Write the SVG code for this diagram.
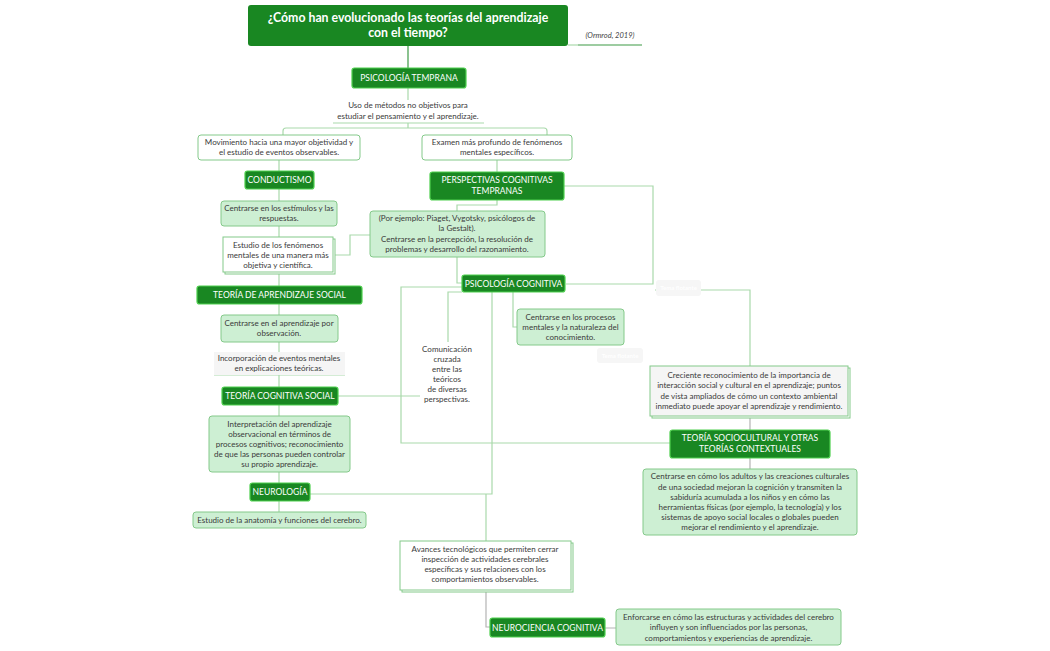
<svg xmlns="http://www.w3.org/2000/svg" width="1050" height="651" viewBox="0 0 1050 651">
<style>
text{font-family:Lato,"Liberation Sans",sans-serif;}
.t{font-size:8px;fill:#3a3a3a;text-anchor:middle;}
.h{font-size:8.5px;fill:#fff;text-anchor:middle;}
.dk{fill:#198722;stroke:#4fd04f;stroke-width:1.2;}
.lg{fill:#cdefd3;stroke:#84c98a;stroke-width:1;}
.wh{fill:#fff;stroke:#84c98a;stroke-width:1;}
.gy{fill:#f5f5f5;stroke:#84c98a;stroke-width:1;}
.sh{fill:#fff;stroke:#84c98a;stroke-width:1;}
.c{fill:none;stroke:#a9d9ab;stroke-width:1.2;}
.cg{fill:none;stroke:#b4b4b4;stroke-width:1.2;}
.fl{fill:#f6f6f6;}
.ft{font-size:6px;fill:#fff;text-anchor:middle;font-weight:bold;}
</style>
<rect width="1050" height="651" fill="#fff"/>
<g id="connectors">
<path d="M408 46V68" fill="none" stroke="#3d9a45" stroke-width="1.2"/>
<path class="c" d="M408 88V100"/>
<path class="c" d="M408 123V128M283 135V131Q283 128 286 128H544Q547 128 547 131V135"/>
<path class="c" d="M279 160V171M279 189V201M279 226V237M279 272V286M279 304V315M279 342V352M279 375V387M279 405V416M279 472V483M279 501V512"/>
<path class="c" d="M335 255H350V235H370"/>
<path class="c" d="M338 396H420"/>
<path class="c" d="M497 160V172"/>
<path class="c" d="M497 200V205H457V211"/>
<path class="c" d="M564 186H653V284H566"/>
<path class="c" d="M457 257V283H462"/>
<path class="c" d="M462 287H401V443H670"/>
<path class="c" d="M462 292H448V342"/>
<path class="c" d="M492 292V494H310"/>
<path class="c" d="M513 292V327H517"/>
<path class="c" d="M655 290H750V366"/>
<path class="cg" d="M750 416V430M750 458V469"/>
<path class="c" d="M486 494V541"/>
<path class="cg" d="M486 590V627H490M605 628H616"/>
<path class="c" d="M333 123H484"/>
<path class="c" d="M214 375H345"/>
<path d="M568 45H578" stroke="#a9d9ab" stroke-width="1.2"/>
<path d="M578 45H642" stroke="#3d9a45" stroke-width="1.2"/>
</g>
<g id="title">
<rect x="248" y="5" width="320" height="41" rx="3" fill="#198722"/>
<text x="408" y="22" font-size="12.3" font-weight="bold" fill="#fff" text-anchor="middle">¿Cómo han evolucionado las teorías del aprendizaje</text>
<text x="408" y="37" font-size="12.3" font-weight="bold" fill="#fff" text-anchor="middle">con el tiempo?</text>
</g>
<g id="cita"><text x="610" y="38" font-size="7.5" font-style="italic" fill="#444" text-anchor="middle">(Ormrod, 2019)</text></g>
<g id="psico-temprana"><rect class="dk" x="352" y="68" width="114" height="20" rx="2.5"/><text class="h" x="409" y="81">PSICOLOGÍA TEMPRANA</text></g>
<g id="uso"><text class="t" x="408" y="108">Uso de métodos no objetivos para</text><text class="t" x="408" y="119">estudiar el pensamiento y el aprendizaje.</text></g>
<g id="movimiento"><rect class="wh" x="198" y="135" width="162" height="25" rx="3"/><text class="t" x="279" y="145">Movimiento hacia una mayor objetividad y</text><text class="t" x="279" y="155">el estudio de eventos observables.</text></g>
<g id="examen"><rect class="wh" x="422" y="135" width="150" height="25" rx="3"/><text class="t" x="497" y="145">Examen más profundo de fenómenos</text><text class="t" x="497" y="155">mentales específicos.</text></g>
<g id="conductismo"><rect class="dk" x="245" y="171" width="69" height="18" rx="2.5"/><text class="h" x="279.5" y="183">CONDUCTISMO</text></g>
<g id="estimulos"><rect class="lg" x="221" y="201" width="116" height="25" rx="3"/><text class="t" x="279" y="211">Centrarse en los estímulos y las</text><text class="t" x="279" y="221">respuestas.</text></g>
<g id="estudio-fen"><rect class="sh" x="225" y="239" width="110" height="35"/><rect class="wh" x="223" y="237" width="110" height="35"/><text class="t" x="278" y="248">Estudio de los fenómenos</text><text class="t" x="278" y="258">mentales de una manera más</text><text class="t" x="278" y="268">objetiva y científica.</text></g>
<g id="aprendizaje-social"><rect class="dk" x="197" y="286" width="165" height="18" rx="2.5"/><text class="h" x="279.5" y="298">TEORÍA DE APRENDIZAJE SOCIAL</text></g>
<g id="observacion"><rect class="lg" x="221" y="315" width="117" height="27" rx="3"/><text class="t" x="279" y="326">Centrarse en el aprendizaje por</text><text class="t" x="279" y="336">observación.</text></g>
<g id="incorporacion"><rect x="214" y="352" width="131" height="23" fill="#f5f5f5"/><text class="t" x="279" y="361">Incorporación de eventos mentales</text><text class="t" x="279" y="371">en explicaciones teóricas.</text></g>
<g id="cognitiva-social"><rect class="dk" x="222" y="387" width="116" height="18" rx="2.5"/><text class="h" x="280" y="399">TEORÍA COGNITIVA SOCIAL</text></g>
<g id="interpretacion"><rect class="lg" x="209" y="416" width="141" height="56" rx="3"/><text class="t" x="279.5" y="427">Interpretación del aprendizaje</text><text class="t" x="279.5" y="437">observacional en términos de</text><text class="t" x="279.5" y="447">procesos cognitivos; reconocimiento</text><text class="t" x="279.5" y="457">de que las personas pueden controlar</text><text class="t" x="279.5" y="467">su propio aprendizaje.</text></g>
<g id="neurologia"><rect class="dk" x="250" y="483" width="60" height="18" rx="2.5"/><text class="h" x="280" y="495">NEUROLOGÍA</text></g>
<g id="anatomia"><rect class="lg" x="193" y="512" width="173" height="16" rx="3"/><text class="t" x="279.5" y="523">Estudio de la anatomía y funciones del cerebro.</text></g>
<g id="perspectivas"><rect class="dk" x="430" y="172" width="134" height="28" rx="2.5"/><text class="h" x="497" y="183">PERSPECTIVAS COGNITIVAS</text><text class="h" x="497" y="194">TEMPRANAS</text></g>
<g id="piaget"><rect class="lg" x="370" y="211" width="175" height="46" rx="3"/><text class="t" x="457" y="221">(Por ejemplo: Piaget, Vygotsky, psicólogos de</text><text class="t" x="457" y="231">la Gestalt).</text><text class="t" x="457" y="242">Centrarse en la percepción, la resolución de</text><text class="t" x="457" y="252">problemas y desarrollo del razonamiento.</text></g>
<g id="psico-cognitiva"><rect class="dk" x="462" y="275" width="103" height="17" rx="2.5"/><text class="h" x="513.5" y="287">PSICOLOGÍA COGNITIVA</text></g>
<g id="procesos"><rect class="lg" x="517" y="309" width="107" height="36" rx="3"/><text class="t" x="570.5" y="320">Centrarse en los procesos</text><text class="t" x="570.5" y="330">mentales y la naturaleza del</text><text class="t" x="570.5" y="340">conocimiento.</text></g>
<g id="comunicacion"><text class="t" x="447" y="352">Comunicación</text><text class="t" x="447" y="362">cruzada</text><text class="t" x="447" y="372">entre las</text><text class="t" x="447" y="382">teóricos</text><text class="t" x="447" y="392">de diversas</text><text class="t" x="447" y="402">perspectivas.</text></g>
<g id="flotante1"><rect class="fl" x="656" y="280" width="45" height="16" rx="3"/><text class="ft" x="678.5" y="290">Tema flotante</text></g>
<g id="flotante2"><rect class="fl" x="597" y="348" width="46" height="15" rx="3"/><text class="ft" x="620" y="358">Tema flotante</text></g>
<g id="creciente"><rect class="sh" x="652" y="368" width="198" height="50"/><rect class="gy" x="650" y="366" width="198" height="50"/><text class="t" x="749" y="378">Creciente reconocimiento de la importancia de</text><text class="t" x="749" y="388">interacción social y cultural en el aprendizaje; puntos</text><text class="t" x="749" y="399">de vista ampliados de cómo un contexto ambiental</text><text class="t" x="749" y="409">inmediato puede apoyar el aprendizaje y rendimiento.</text></g>
<g id="sociocultural"><rect class="dk" x="670" y="430" width="160" height="28" rx="2.5"/><text class="h" x="750" y="441">TEORÍA SOCIOCULTURAL Y OTRAS</text><text class="h" x="750" y="452">TEORÍAS CONTEXTUALES</text></g>
<g id="adultos"><rect class="lg" x="643" y="469" width="214" height="66" rx="3"/><text class="t" x="750" y="479">Centrarse en cómo los adultos y las creaciones culturales</text><text class="t" x="750" y="490">de una sociedad mejoran la cognición y transmiten la</text><text class="t" x="750" y="500">sabiduría acumulada a los niños y en cómo las</text><text class="t" x="750" y="510">herramientas físicas (por ejemplo, la tecnología) y los</text><text class="t" x="750" y="520">sistemas de apoyo social locales o globales pueden</text><text class="t" x="750" y="530">mejorar el rendimiento y el aprendizaje.</text></g>
<g id="avances"><rect class="sh" x="402" y="543" width="171" height="49"/><rect class="wh" x="400" y="541" width="171" height="49"/><text class="t" x="485" y="552">Avances tecnológicos que permiten cerrar</text><text class="t" x="485" y="562">inspección de actividades cerebrales</text><text class="t" x="485" y="572">específicas y sus relaciones con los</text><text class="t" x="485" y="582">comportamientos observables.</text></g>
<g id="neurociencia"><rect class="dk" x="490" y="618" width="115" height="19" rx="2.5"/><text class="h" x="547.5" y="630.5">NEUROCIENCIA COGNITIVA</text></g>
<g id="enforcarse"><rect class="lg" x="616" y="609" width="225" height="36" rx="3"/><text class="t" x="728.5" y="620">Enforcarse en cómo las estructuras y actividades del cerebro</text><text class="t" x="728.5" y="630">influyen y son influenciados por las personas,</text><text class="t" x="728.5" y="641">comportamientos y experiencias de aprendizaje.</text></g>
</svg>
